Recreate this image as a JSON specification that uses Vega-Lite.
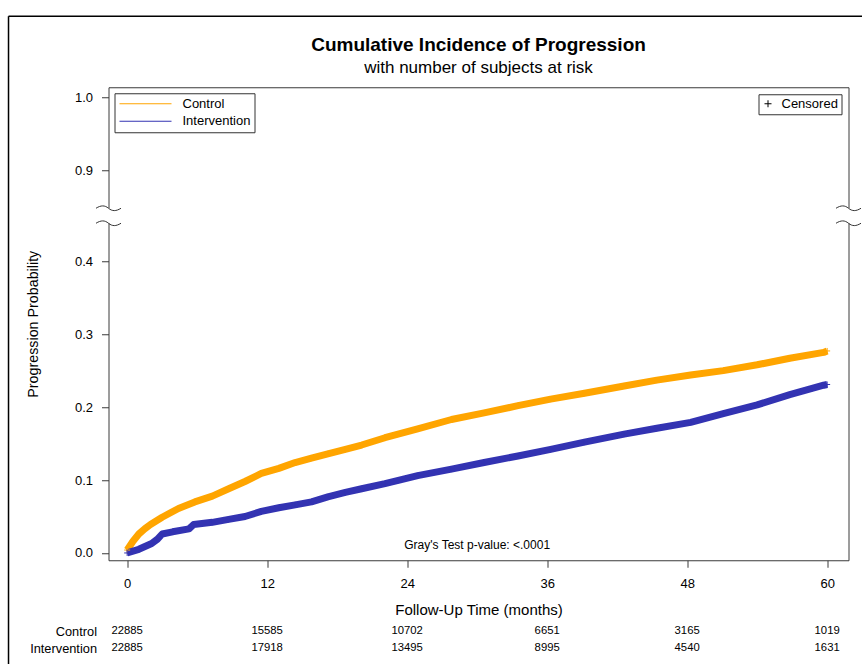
{
  "$schema": "https://vega.github.io/schema/vega-lite/v6.json",
  "padding": {"left": 6.5, "top": 14.25, "right": 0, "bottom": 0},
  "title": {
    "text": "Cumulative Incidence of Progression",
    "subtitle": "with number of subjects at risk",
    "anchor": "middle",
    "frame": "group",
    "font": "Liberation Sans",
    "fontSize": 19,
    "fontWeight": "bold",
    "color": "black",
    "subtitleFont": "Liberation Sans",
    "subtitleFontSize": 17,
    "subtitleColor": "black",
    "subtitlePadding": 5.5,
    "offset": -61.5
  },
  "spacing": 62.5,
  "bounds": "flush",
  "datasets": {
    "cif": [
      {"group": "Control", "month": 0, "p": 0.004},
      {"group": "Control", "month": 0.5, "p": 0.016},
      {"group": "Control", "month": 1.0, "p": 0.026},
      {"group": "Control", "month": 1.5, "p": 0.033},
      {"group": "Control", "month": 2.0, "p": 0.039},
      {"group": "Control", "month": 3.0, "p": 0.049},
      {"group": "Control", "month": 4.4, "p": 0.061},
      {"group": "Control", "month": 5.8, "p": 0.070},
      {"group": "Control", "month": 7.3, "p": 0.078},
      {"group": "Control", "month": 8.7, "p": 0.088},
      {"group": "Control", "month": 10.1, "p": 0.098},
      {"group": "Control", "month": 11.5, "p": 0.109},
      {"group": "Control", "month": 13.0, "p": 0.116},
      {"group": "Control", "month": 14.4, "p": 0.124},
      {"group": "Control", "month": 15.8, "p": 0.130},
      {"group": "Control", "month": 17.2, "p": 0.136},
      {"group": "Control", "month": 18.7, "p": 0.142},
      {"group": "Control", "month": 20.1, "p": 0.148},
      {"group": "Control", "month": 22.1, "p": 0.158},
      {"group": "Control", "month": 24.9, "p": 0.170},
      {"group": "Control", "month": 27.8, "p": 0.183},
      {"group": "Control", "month": 30.6, "p": 0.192},
      {"group": "Control", "month": 33.5, "p": 0.202},
      {"group": "Control", "month": 36.3, "p": 0.211},
      {"group": "Control", "month": 39.2, "p": 0.219},
      {"group": "Control", "month": 42.6, "p": 0.229},
      {"group": "Control", "month": 45.4, "p": 0.237},
      {"group": "Control", "month": 48.3, "p": 0.244},
      {"group": "Control", "month": 51.1, "p": 0.250},
      {"group": "Control", "month": 54.0, "p": 0.258},
      {"group": "Control", "month": 56.8, "p": 0.267},
      {"group": "Control", "month": 59.7, "p": 0.275},
      {"group": "Control", "month": 60, "p": 0.277},
      {"group": "Intervention", "month": 0, "p": 0.000},
      {"group": "Intervention", "month": 1.0, "p": 0.005},
      {"group": "Intervention", "month": 2.1, "p": 0.013},
      {"group": "Intervention", "month": 2.6, "p": 0.019},
      {"group": "Intervention", "month": 3.0, "p": 0.026},
      {"group": "Intervention", "month": 3.9, "p": 0.029},
      {"group": "Intervention", "month": 5.3, "p": 0.033},
      {"group": "Intervention", "month": 5.7, "p": 0.039},
      {"group": "Intervention", "month": 7.3, "p": 0.042},
      {"group": "Intervention", "month": 8.7, "p": 0.046},
      {"group": "Intervention", "month": 10.1, "p": 0.050},
      {"group": "Intervention", "month": 11.5, "p": 0.057},
      {"group": "Intervention", "month": 13.0, "p": 0.062},
      {"group": "Intervention", "month": 14.4, "p": 0.066},
      {"group": "Intervention", "month": 15.8, "p": 0.070},
      {"group": "Intervention", "month": 17.2, "p": 0.077},
      {"group": "Intervention", "month": 18.7, "p": 0.083},
      {"group": "Intervention", "month": 20.1, "p": 0.088},
      {"group": "Intervention", "month": 22.1, "p": 0.095},
      {"group": "Intervention", "month": 24.9, "p": 0.106},
      {"group": "Intervention", "month": 27.8, "p": 0.115},
      {"group": "Intervention", "month": 30.6, "p": 0.124},
      {"group": "Intervention", "month": 33.5, "p": 0.133},
      {"group": "Intervention", "month": 36.3, "p": 0.142},
      {"group": "Intervention", "month": 39.2, "p": 0.152},
      {"group": "Intervention", "month": 42.6, "p": 0.163},
      {"group": "Intervention", "month": 45.4, "p": 0.171},
      {"group": "Intervention", "month": 48.3, "p": 0.179},
      {"group": "Intervention", "month": 51.1, "p": 0.191},
      {"group": "Intervention", "month": 54.0, "p": 0.203},
      {"group": "Intervention", "month": 56.8, "p": 0.217},
      {"group": "Intervention", "month": 59.7, "p": 0.230},
      {"group": "Intervention", "month": 60, "p": 0.231}
    ],
    "risk": [
      {"group": "Control", "month": 0, "n": "22885"},
      {"group": "Control", "month": 12, "n": "15585"},
      {"group": "Control", "month": 24, "n": "10702"},
      {"group": "Control", "month": 36, "n": "6651"},
      {"group": "Control", "month": 48, "n": "3165"},
      {"group": "Control", "month": 60, "n": "1019"},
      {"group": "Intervention", "month": 0, "n": "22885"},
      {"group": "Intervention", "month": 12, "n": "17918"},
      {"group": "Intervention", "month": 24, "n": "13495"},
      {"group": "Intervention", "month": 36, "n": "8995"},
      {"group": "Intervention", "month": 48, "n": "4540"},
      {"group": "Intervention", "month": 60, "n": "1631"}
    ]
  },
  "vconcat": [
    {
      "width": 740,
      "height": 473,
      "view": {"stroke": "#3a3a3a", "strokeWidth": 1},
      "layer": [
        {
          "data": {"values": [{}]},
          "mark": {"type": "rule", "color": "black", "strokeWidth": 1.5},
          "encoding": {
            "x": {"datum": -10.17, "type": "quantitative", "scale": {"domain": [-1.6, 61.83], "nice": false, "zero": false}},
            "x2": {"datum": 63},
            "y": {"datum": 1.1111, "type": "quantitative", "scale": {"domain": [-0.01, 0.4521, 0.8478, 1.0137], "range": [473, 136, 121, 0], "nice": false, "zero": false}}
          }
        },
        {
          "data": {"values": [{}]},
          "mark": {"type": "rule", "color": "black", "strokeWidth": 1.5},
          "encoding": {
            "x": {"datum": -10.17, "type": "quantitative"},
            "y": {"datum": 1.1111, "type": "quantitative"},
            "y2": {"datum": -0.153}
          }
        },
        {
          "data": {"name": "cif"},
          "mark": {"type": "line", "strokeWidth": 7, "strokeJoin": "round"},
          "encoding": {
            "x": {
              "field": "month",
              "type": "quantitative",
              "scale": {"domain": [-1.6, 61.83], "nice": false, "zero": false},
              "axis": {
                "values": [0, 12, 24, 36, 48, 60],
                "domain": false,
                "tickSize": 7,
                "labelPadding": 10,
                "labelFontSize": 13,
                "title": "Follow-Up Time (months)",
                "titleFontSize": 15,
                "titlePadding": 12.5
              }
            },
            "y": {
              "field": "p",
              "type": "quantitative",
              "scale": {"domain": [-0.01, 0.4521, 0.8478, 1.0137], "range": [473, 136, 121, 0], "nice": false, "zero": false},
              "axis": {
                "values": [0, 0.1, 0.2, 0.3, 0.4, 0.9, 1.0],
                "format": ".1f",
                "domain": false,
                "tickSize": 7,
                "labelPadding": 9,
                "labelFontSize": 13,
                "title": "Progression Probability",
                "titleFontSize": 14.3,
                "titlePadding": 34
              }
            },
            "color": {
              "field": "group",
              "type": "nominal",
              "scale": {"domain": ["Control", "Intervention"], "range": ["#FFA500", "#3333B2"]},
              "legend": {
                "orient": "top-left",
                "offset": 6,
                "title": null,
                "padding": 4,
                "strokeColor": "#333333",
                "fillColor": "white",
                "symbolType": "stroke",
                "symbolSize": 2704,
                "symbolStrokeWidth": 1.2,
                "labelOffset": 10,
                "rowPadding": 3.5,
                "clipHeight": 13,
                "labelFontSize": 13
              }
            }
          }
        },
        {
          "data": {"name": "cif"},
          "mark": {"type": "point", "filled": false, "size": 36, "strokeWidth": 1, "opacity": 1},
          "encoding": {
            "x": {"field": "month", "type": "quantitative"},
            "y": {"field": "p", "type": "quantitative"},
            "stroke": {
              "field": "group",
              "type": "nominal",
              "scale": {"domain": ["Control", "Intervention"], "range": ["#FFA500", "#3333B2"]},
              "legend": null
            },
            "shape": {
              "datum": "Censored",
              "scale": {"domain": ["Censored"], "range": ["M-1,0H1M0,-1V1"]},
              "legend": {
                "orient": "top-right",
                "offset": 7,
                "title": null,
                "padding": 3,
                "strokeColor": "#333333",
                "fillColor": "white",
                "symbolSize": 49,
                "symbolStrokeColor": "black",
                "symbolFillColor": "transparent",
                "symbolStrokeWidth": 1,
                "labelOffset": 7,
                "labelFontSize": 13
              }
            }
          }
        },
        {
          "data": {"values": [{}]},
          "mark": {"type": "rect", "fill": "white"},
          "encoding": {
            "x": {"datum": -3, "type": "quantitative"},
            "x2": {"datum": 62.3},
            "y": {"datum": 0.8478, "type": "quantitative"},
            "y2": {"datum": 0.4521}
          }
        },
        {
          "data": {"values": [{}]},
          "mark": {"type": "point", "shape": "M-1,0C-0.6,-0.25,-0.3,-0.25,0,0S0.6,0.25,1,0", "size": 625, "filled": false, "stroke": "#333333", "strokeWidth": 1, "opacity": 1},
          "encoding": {
            "x": {"datum": -1.6, "type": "quantitative"},
            "y": {"datum": 0.8478, "type": "quantitative"}
          }
        },
        {
          "data": {"values": [{}]},
          "mark": {"type": "point", "shape": "M-1,0C-0.6,-0.25,-0.3,-0.25,0,0S0.6,0.25,1,0", "size": 625, "filled": false, "stroke": "#333333", "strokeWidth": 1, "opacity": 1},
          "encoding": {
            "x": {"datum": -1.6, "type": "quantitative"},
            "y": {"datum": 0.4521, "type": "quantitative"}
          }
        },
        {
          "data": {"values": [{}]},
          "mark": {"type": "point", "shape": "M-1,0C-0.6,-0.25,-0.3,-0.25,0,0S0.6,0.25,1,0", "size": 625, "filled": false, "stroke": "#333333", "strokeWidth": 1, "opacity": 1},
          "encoding": {
            "x": {"datum": 61.83, "type": "quantitative"},
            "y": {"datum": 0.8478, "type": "quantitative"}
          }
        },
        {
          "data": {"values": [{}]},
          "mark": {"type": "point", "shape": "M-1,0C-0.6,-0.25,-0.3,-0.25,0,0S0.6,0.25,1,0", "size": 625, "filled": false, "stroke": "#333333", "strokeWidth": 1, "opacity": 1},
          "encoding": {
            "x": {"datum": 61.83, "type": "quantitative"},
            "y": {"datum": 0.4521, "type": "quantitative"}
          }
        },
        {
          "data": {"values": [{}]},
          "mark": {"type": "text", "text": "Gray's Test p-value: <.0001", "fontSize": 12, "align": "center", "baseline": "middle", "color": "black"},
          "encoding": {
            "x": {"datum": 30, "type": "quantitative"},
            "y": {"datum": 0.0115, "type": "quantitative"}
          }
        }
      ]
    },
    {
      "width": 740,
      "height": 34,
      "view": {"stroke": null},
      "data": {"name": "risk"},
      "mark": {"type": "text", "fontSize": 11.3, "align": "center", "baseline": "middle", "color": "black"},
      "encoding": {
        "x": {"field": "month", "type": "quantitative", "scale": {"domain": [-1.6, 61.83], "nice": false, "zero": false}, "axis": null},
        "y": {
          "field": "group",
          "type": "nominal",
          "sort": ["Control", "Intervention"],
          "axis": {"title": null, "ticks": false, "domain": false, "labelPadding": 12, "labelFontSize": 12.8}
        },
        "text": {"field": "n", "type": "nominal"}
      }
    }
  ],
  "resolve": {"scale": {"x": "independent", "y": "independent"}},
  "config": {
    "font": "Liberation Sans",
    "view": {"stroke": null},
    "axis": {
      "grid": false,
      "labelColor": "black",
      "titleColor": "black",
      "tickColor": "#3a3a3a",
      "labelFont": "Liberation Sans",
      "titleFont": "Liberation Sans",
      "titleFontWeight": "normal"
    },
    "legend": {"labelFont": "Liberation Sans", "labelColor": "black"}
  }
}
